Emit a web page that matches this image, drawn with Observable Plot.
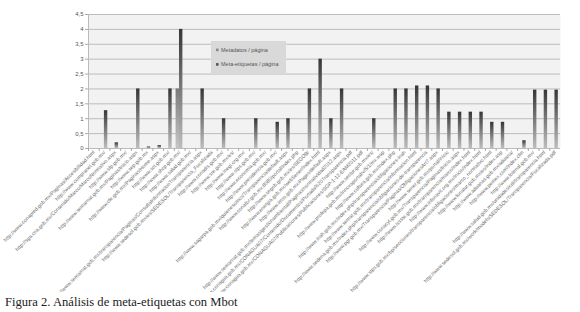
<!DOCTYPE html>
<html><head><meta charset="utf-8">
<script src="https://cdn.jsdelivr.net/npm/d3@7"></script>
<script src="https://cdn.jsdelivr.net/npm/@observablehq/plot@0.6"></script>
<style>
body{margin:0;background:#fff;}
#cap{font-family:"Liberation Serif","DejaVu Serif",serif;font-size:12.6px;color:#222;margin:3px 0 0 5px;line-height:14px;}
</style></head><body>
<div id="chart"></div>
<div id="cap">Figura 2. Análisis de meta-etiquetas con Mbot</div>
<script>
const series = ["Metadatos / página", "Meta-etiquetas / página"];

const urls = [
  "http://www.conapred.gob.mx/Paginas/Accesibilidad.html",
  "http://www.compranet.gob.mx/",
  "http://sga.cna.gob.mx/Contenido/Marco/MarcoNormativo.aspx",
  "http://www.sfp.gob.mx/",
  "http://www.semarnat.gob.mx/Paginas/Inicio.aspx",
  "http://www.sep.gob.mx",
  "http://www.cfe.gob.mx/Paginas/Home.aspx",
  "http://www.sct.gob.mx/",
  "http://www.shcp.gob.mx/",
  "http://www.salud.gob.mx/",
  "http://www.semarnat.gob.mx/transparencia/Paginas/ConsultaInformacionTransparencia.aspx",
  "http://www.sedesol.gob.mx/es/SEDESOL/Transparencia_Focalizada",
  "http://www.conadis.gob.mx/",
  "http://www.sre.gob.mx/es/",
  "http://www.inegi.org.mx/",
  "http://www.stps.gob.mx/",
  "http://www.economia.gob.mx/",
  "http://www.presidencia.gob.mx/",
  "http://www.sagarpa.gob.mx/quienesomos/Transparencia/default.aspx",
  "http://www.conafor.gob.mx:8080/portal/index.php",
  "http://www.segob.gob.mx/es/SEGOB/",
  "http://www.energia.gob.mx/webSener/index.html",
  "http://www.imss.gob.mx/Pages/default.aspx",
  "http://www.semarnat.gob.mx/temas/gestionambiental/Paginas/normatividad2012.aspx",
  "http://www.conagua.gob.mx/CONAGUA07/Contenido/Documentos/Portada%20Transparencia.pdf",
  "http://www.conagua.gob.mx/CONAGUA07/Publicaciones/Publicaciones/SGP-1-12-EAM2011.pdf",
  "http://www.sectur.gob.mx/es/",
  "http://www.profepa.gob.mx/innovaportal/v/5/1/mx.wap",
  "http://www.cultura.gob.mx/index.php",
  "http://www.inah.gob.mx/index.php/transparencia/obligaciones-inah",
  "http://www.semar.gob.mx/transparencia/informacion.html",
  "http://www.sedena.gob.mx/index.php/transparencia/obligaciones-de-transparencia",
  "http://www.pgr.gob.mx/Transparencia/Paginas/ObligacionesArt7.aspx",
  "http://www.sener.gob.mx/portal/inicio",
  "http://www.conacyt.gob.mx/Transparencia/Paginas/Inicio.aspx",
  "http://www.issste.gob.mx/transparencia/marco/index.html",
  "http://www.infonavit.org.mx/inicio/index.html",
  "http://www.stps.gob.mx/bp/secciones/transparencia/obligaciones/marco_normativo.html",
  "http://www.fonatur.gob.mx/es/index.asp",
  "http://www.aduanas.gob.mx/aduana/",
  "http://www.pemex.com/index.cfm",
  "http://www.lotenal.gob.mx/",
  "http://www.salud.gob.mx/unidades/cdi/transparencia.html",
  "http://www.sedesol.gob.mx/work/models/SEDESOL/Transparencia/Focalizada.pdf"
];

const metadatos = [0,0,0,0,0,0,0,0,2,0, 0,0,0,0,0,0,0,0,0,0, 0,0,0,0,0,0,0,0,0,0, 0,0,0,0,0,0,0,0,0,0, 0,0,0,0];
const metaEtiquetas = [0,1.27,0.19,0,2,0.05,0.1,2,4,0, 2,0,1,0,0,1,0,0.88,1,0, 2,3,1,2,0,0,1,0,2,2, 2.1,2.1,2,1.22,1.22,1.22,1.22,0.88,0.88,0, 0.26,1.96,1.96,1.96];

const yTicks = [0,0.5,1,1.5,2,2.5,3,3.5,4,4.5];

const W = 580, ML = 88, MR = 20;
const half = (W - ML - MR) / urls.length / 2;   // half a category band
const barW = 3.4;

const rows = (vals) => urls.map((u, i) => ({url: u, value: vals[i]})).filter(d => d.value > 0);

const plot = Plot.plot({
  width: W, height: 292,
  marginLeft: ML, marginRight: MR, marginTop: 14, marginBottom: 144,
  style: {fontFamily: "'Liberation Sans', Arial, sans-serif", background: "#fff", color: "#444"},
  x: {domain: urls, padding: 0, label: null},
  y: {domain: [0, 4.5], label: null},
  marks: [
    Plot.frame({fill: "#f2f2f2", stroke: "none"}),
    Plot.gridY(yTicks, {stroke: "#bcbcbc", strokeOpacity: 1}),
    Plot.ruleX([urls[0]], {dx: -half, stroke: "#bbb"}),
    Plot.axisY(yTicks, {tickFormat: d => String(d).replace(".", ","), fontSize: 6, tickSize: 3, tickPadding: 2, stroke: "#aaa", fill: "#555", label: null}),
    Plot.axisX({tickRotate: -45, fontSize: 5.1, tickSize: 0, tickPadding: 3, fill: "#666", label: null}),
    Plot.axisX({text: null, tickSize: 3, dx: -half, stroke: "#aaa", label: null}),
    Plot.barY(rows(metadatos), {x: "url", y: "value", insetLeft: half - barW - 0.2, insetRight: half + 0.2, fill: "url(#gMeta)"}),
    Plot.barY(rows(metaEtiquetas), {x: "url", y: "value", insetLeft: half - 0.2, insetRight: half - barW + 0.2, fill: "url(#gEtq)"})
  ]
});

const svg = d3.select(plot);
const defs = svg.insert("defs", ":first-child");
const g1 = defs.append("linearGradient").attr("id", "gMeta").attr("x1", 0).attr("y1", 0).attr("x2", 0).attr("y2", 1);
g1.append("stop").attr("offset", "0%").attr("stop-color", "#7a7a7a");
g1.append("stop").attr("offset", "100%").attr("stop-color", "#c6c6c6");
const g2 = defs.append("linearGradient").attr("id", "gEtq").attr("x1", 0).attr("y1", 0).attr("x2", 0).attr("y2", 1);
g2.append("stop").attr("offset", "0%").attr("stop-color", "#363636");
g2.append("stop").attr("offset", "100%").attr("stop-color", "#bdbdbd");

// legend
const lg = svg.append("g").attr("transform", "translate(211,41)").attr("text-anchor", "start");
lg.append("rect").attr("width", 75).attr("height", 32).attr("fill", "#d9d9d9");
series.forEach((s, i) => {
  const row = lg.append("g").attr("transform", `translate(5,${9 + i * 14.5})`);
  row.append("rect").attr("x", 0).attr("y", -1.4).attr("width", 2.6).attr("height", 2.6).attr("fill", i ? "#555" : "#888");
  row.append("text").attr("x", 5).attr("y", 0).attr("dy", "0.32em").attr("font-size", 5.5).attr("fill", "#555").attr("text-anchor", "start").text(s);
});

document.getElementById("chart").appendChild(plot);
</script></body></html>
